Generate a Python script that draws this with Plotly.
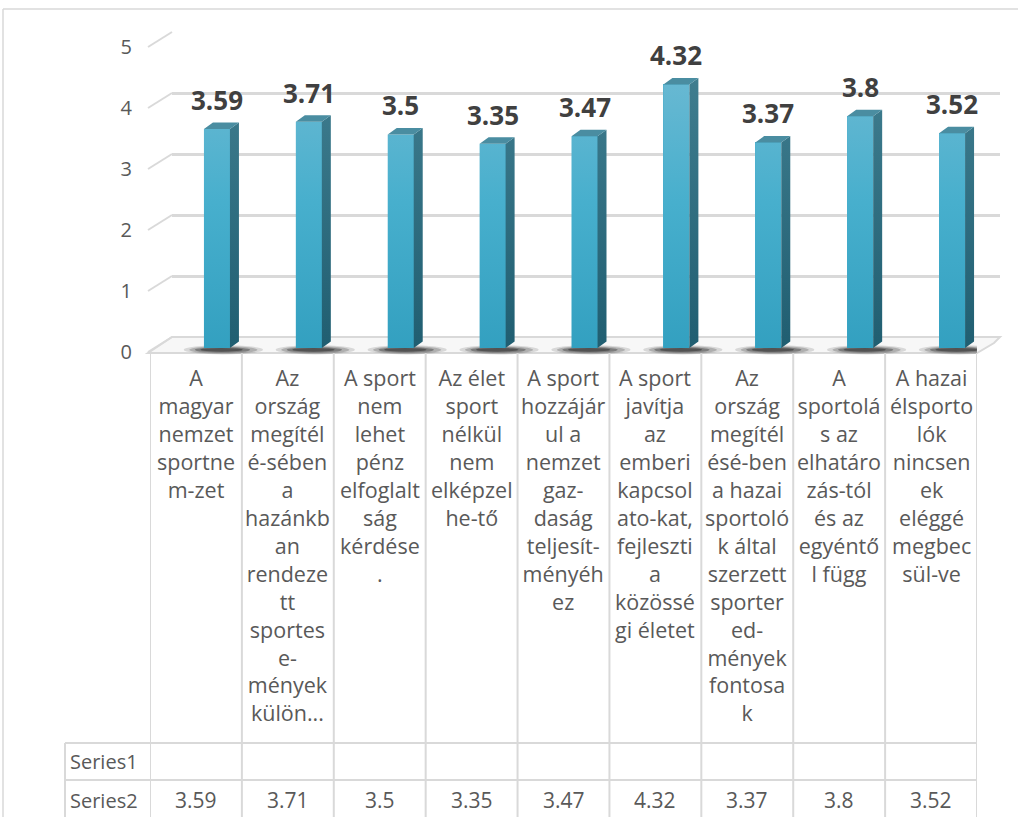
import plotly.graph_objects as go

# ---------------- data ----------------
categories = [
    "A<br>magyar<br>nemzet<br>sportne<br>m-zet",
    "Az<br>ország<br>megítél<br>é-sében<br>a<br>hazánkb<br>an<br>rendeze<br>tt<br>sportes<br>e-<br>mények<br>külön...",
    "A sport<br>nem<br>lehet<br>pénz<br>elfoglalt<br>ság<br>kérdése<br>.",
    "Az élet<br>sport<br>nélkül<br>nem<br>elképzel<br>he-tő",
    "A sport<br>hozzájár<br>ul a<br>nemzet<br>gaz-<br>daság<br>teljesít-<br>ményéh<br>ez",
    "A sport<br>javítja<br>az<br>emberi<br>kapcsol<br>ato-kat,<br>fejleszti<br>a<br>közössé<br>gi életet",
    "Az<br>ország<br>megítél<br>ésé-ben<br>a hazai<br>sportoló<br>k által<br>szerzett<br>sporter<br>ed-<br>mények<br>fontosa<br>k",
    "A<br>sportolá<br>s az<br>elhatáro<br>zás-tól<br>és az<br>egyéntő<br>l függ",
    "A hazai<br>élsporto<br>lók<br>nincsen<br>ek<br>eléggé<br>megbec<br>sül-ve",
]
series1 = [None, None, None, None, None, None, None, None, None]
series2 = [3.59, 3.71, 3.5, 3.35, 3.47, 4.32, 3.37, 3.8, 3.52]
series_names = ["Series1", "Series2"]
y_ticks = [0, 1, 2, 3, 4, 5]

# ---------------- layout geometry (pixels) ----------------
W, H = 1018, 817
def fx(px):
    return px / W
def fy(py):
    return 1 - py / H

TAB_L, TAB_R = 150, 977          # table / front plane columns
ROWLAB_L = 65
TAB_TOP, ROW1_TOP, ROW2_TOP = 353, 743, 780
BACK_L, BACK_R = 172, 1000
BACK_Y0, BACK_Y5 = 337, 32        # back wall value 0 / value 5
FRONT_Y0 = 352                    # front edge value 0
BAR_Y0 = 348                      # bar base
PPU = (BACK_Y0 - BACK_Y5) / 5.0   # pixels per unit
n = len(categories)
colw = (TAB_R - TAB_L) / n

BW = 26 / colw                    # bar front width (x units)
OFF = 8 / colw                    # bar offset from category centre
DX = 9 / colw                     # depth offset x
DY = 6.5 / PPU                    # depth offset y
YLOW = -0.25                      # room below the base for shadows

GRID = "#d9d9d9"
TXT = "#595959"
FONT = "Open Sans, Noto Sans, sans-serif"

idx = list(range(n))

fig = go.Figure()

# back wall subplot (x / y) – only gridlines
fig.add_trace(go.Scatter(x=[], y=[], xaxis="x", yaxis="y", showlegend=False, hoverinfo="skip"))

# bars (x2 / y2)
fig.add_trace(go.Bar(
    x=idx, y=series2, xaxis="x2", yaxis="y2", name=series_names[1],
    width=BW, offset=OFF, marker=dict(color="#46abc9", line=dict(width=0)),
    showlegend=False,
))

# front-face gradient overlay
fxs, fys = [], []
for i, v in zip(idx, series2):
    xl, xr = i + OFF, i + OFF + BW
    fxs += [xl, xr, xr, xl, xl, None]
    fys += [0, 0, v, v, 0, None]
fig.add_trace(go.Scatter(
    x=fxs, y=fys, xaxis="x2", yaxis="y2", mode="lines", fill="toself",
    line=dict(width=0), hoverinfo="skip", showlegend=False,
    fillgradient=dict(type="vertical",
                      colorscale=[[0, "#33a0c0"], [0.55, "#47afcd"], [1, "#67b8d2"]]),
))

# side faces
sx, sy = [], []
for i, v in zip(idx, series2):
    xr = i + OFF + BW
    sx += [xr, xr + DX, xr + DX, xr, xr, None]
    sy += [0, DY, v + DY, v, 0, None]
fig.add_trace(go.Scatter(
    x=sx, y=sy, xaxis="x2", yaxis="y2", mode="lines", fill="toself",
    line=dict(width=0), hoverinfo="skip", showlegend=False,
    fillgradient=dict(type="vertical", colorscale=[[0, "#205e71"], [1, "#3f7d8f"]]),
))

# top faces
tx, ty = [], []
for i, v in zip(idx, series2):
    xl, xr = i + OFF, i + OFF + BW
    tx += [xl, xl + DX, xr + DX, xr, xl, None]
    ty += [v, v + DY, v + DY, v, v, None]
fig.add_trace(go.Scatter(
    x=tx, y=ty, xaxis="x2", yaxis="y2", mode="lines", fill="toself",
    fillcolor="#4a8da1", line=dict(width=0), hoverinfo="skip", showlegend=False,
))

# front tick axis (x2 / y3)
fig.add_trace(go.Scatter(x=[], y=[], xaxis="x2", yaxis="y3", showlegend=False, hoverinfo="skip"))

shapes = []
# outer chart border
shapes.append(dict(type="line", xref="paper", yref="paper", x0=fx(3), x1=fx(3), y0=fy(9), y1=fy(817),
                   line=dict(color=GRID, width=1.5)))
shapes.append(dict(type="line", xref="paper", yref="paper", x0=fx(3), x1=fx(1018), y0=fy(9), y1=fy(9),
                   line=dict(color=GRID, width=1.5)))

# floor
shapes.append(dict(type="path", xref="paper", yref="paper", layer="below",
                   path=f"M {fx(148)} {fy(TAB_TOP)} L {fx(TAB_R)} {fy(TAB_TOP)} L {fx(BACK_R - 6)} {fy(BACK_Y0 + 6)} "
                        f"L {fx(BACK_R)} {fy(BACK_Y0)} L {fx(BACK_L)} {fy(BACK_Y0)} Z",
                   fillcolor="#f7f7f7", line=dict(color=GRID, width=2)))

# side-wall diagonals for each gridline
for v in y_ticks:
    shapes.append(dict(type="line", xref="paper", yref="paper", layer="below",
                       x0=fx(148), y0=fy(FRONT_Y0 - PPU * v), x1=fx(BACK_L), y1=fy(BACK_Y0 - PPU * v),
                       line=dict(color=GRID, width=2)))

# bar shadows (soft, layered flat ellipses, stretched to the right)
for i in idx:
    for (l, r, h, a) in ((0.22, 0.36, 0.075, 0.14), (0.16, 0.3, 0.06, 0.22),
                         (0.1, 0.22, 0.045, 0.35), (0.04, 0.14, 0.03, 0.45)):
        shapes.append(dict(type="circle", xref="x2", yref="y2", layer="below",
                           x0=i + OFF - l, x1=i + OFF + BW + r, y0=-0.03 - h, y1=-0.03 + h,
                           fillcolor=f"rgba(30,30,30,{a})", line=dict(width=0)))

# data table lines
for k in range(n + 1):
    shapes.append(dict(type="line", xref="x2", yref="paper", x0=k - 0.5, x1=k - 0.5,
                       y0=fy(TAB_TOP), y1=fy(817), line=dict(color=GRID, width=2)))
for yy in (ROW1_TOP, ROW2_TOP):
    shapes.append(dict(type="line", xref="paper", yref="paper", x0=fx(ROWLAB_L), x1=fx(TAB_R),
                       y0=fy(yy), y1=fy(yy), line=dict(color=GRID, width=2)))
shapes.append(dict(type="line", xref="paper", yref="paper", x0=fx(ROWLAB_L), x1=fx(ROWLAB_L),
                   y0=fy(ROW1_TOP), y1=fy(817), line=dict(color=GRID, width=2)))

annotations = []
# data labels
for i, v in zip(idx, series2):
    annotations.append(dict(x=i + OFF + BW / 2, y=v, xref="x2", yref="y2", text=f"{v:g}",
                            showarrow=False, yshift=29, yanchor="middle",
                            font=dict(family=FONT, size=26, color="#404040", weight="bold")))
# category cells
for i, c in zip(idx, categories):
    annotations.append(dict(x=i, y=fy(361), xref="x2", yref="paper", text=c, showarrow=False,
                            xanchor="center", yanchor="top", align="center",
                            font=dict(family=FONT, size=21.5, color=TXT)))
# row labels
for name, yy in zip(series_names, (761, 800)):
    annotations.append(dict(x=fx(68), y=fy(yy), xref="paper", yref="paper", text=name, showarrow=False,
                            xanchor="left", yanchor="middle", font=dict(family=FONT, size=20, color=TXT)))
# row values
for i, v in zip(idx, series1):
    if v is not None:
        annotations.append(dict(x=i, y=fy(761), xref="x2", yref="paper", text=f"{v:g}", showarrow=False,
                                font=dict(family=FONT, size=21, color=TXT)))
for i, v in zip(idx, series2):
    annotations.append(dict(x=i, y=fy(800), xref="x2", yref="paper", text=f"{v:g}", showarrow=False,
                            yanchor="middle", font=dict(family=FONT, size=21, color=TXT)))

fig.update_layout(
    width=W, height=H, margin=dict(l=0, r=0, t=0, b=0, pad=0, autoexpand=False),
    paper_bgcolor="white", plot_bgcolor="rgba(0,0,0,0)",
    showlegend=False, bargap=0,
    xaxis=dict(domain=[fx(BACK_L), fx(BACK_R)], range=[0, 1], anchor="y", automargin=False,
               showgrid=False, zeroline=False, showticklabels=False, showline=False, ticks=""),
    yaxis=dict(domain=[fy(BACK_Y0), fy(BACK_Y5)], range=[0, 5], anchor="x", tickvals=y_ticks,
               automargin=False, showgrid=True, gridcolor=GRID, gridwidth=2.5, zeroline=False,
               showticklabels=False, showline=False, ticks=""),
    xaxis2=dict(domain=[fx(TAB_L), fx(TAB_R)], range=[-0.5, n - 0.5], anchor="y2", automargin=False,
                showgrid=False, zeroline=False, showticklabels=False, showline=False, ticks=""),
    yaxis2=dict(domain=[fy(BAR_Y0 - YLOW * PPU), fy(BAR_Y0 - 5 * PPU)], range=[YLOW, 5], anchor="x2",
                automargin=False, showgrid=False, zeroline=False, showticklabels=False,
                showline=False, ticks=""),
    yaxis3=dict(domain=[fy(FRONT_Y0), fy(FRONT_Y0 - 5 * PPU)], range=[0, 5], anchor="free",
                position=fx(148), side="left", tickvals=y_ticks, ticklabelstandoff=16,
                automargin=False, showgrid=False, zeroline=False, showline=False, ticks="",
                tickfont=dict(family=FONT, size=20, color=TXT)),
    shapes=shapes, annotations=annotations,
)

fig.write_html("out.html",
               config={"displayModeBar": False},
               post_script="document.body.style.margin='0';document.body.style.padding='0';"
                           "document.documentElement.style.overflow='hidden';")
